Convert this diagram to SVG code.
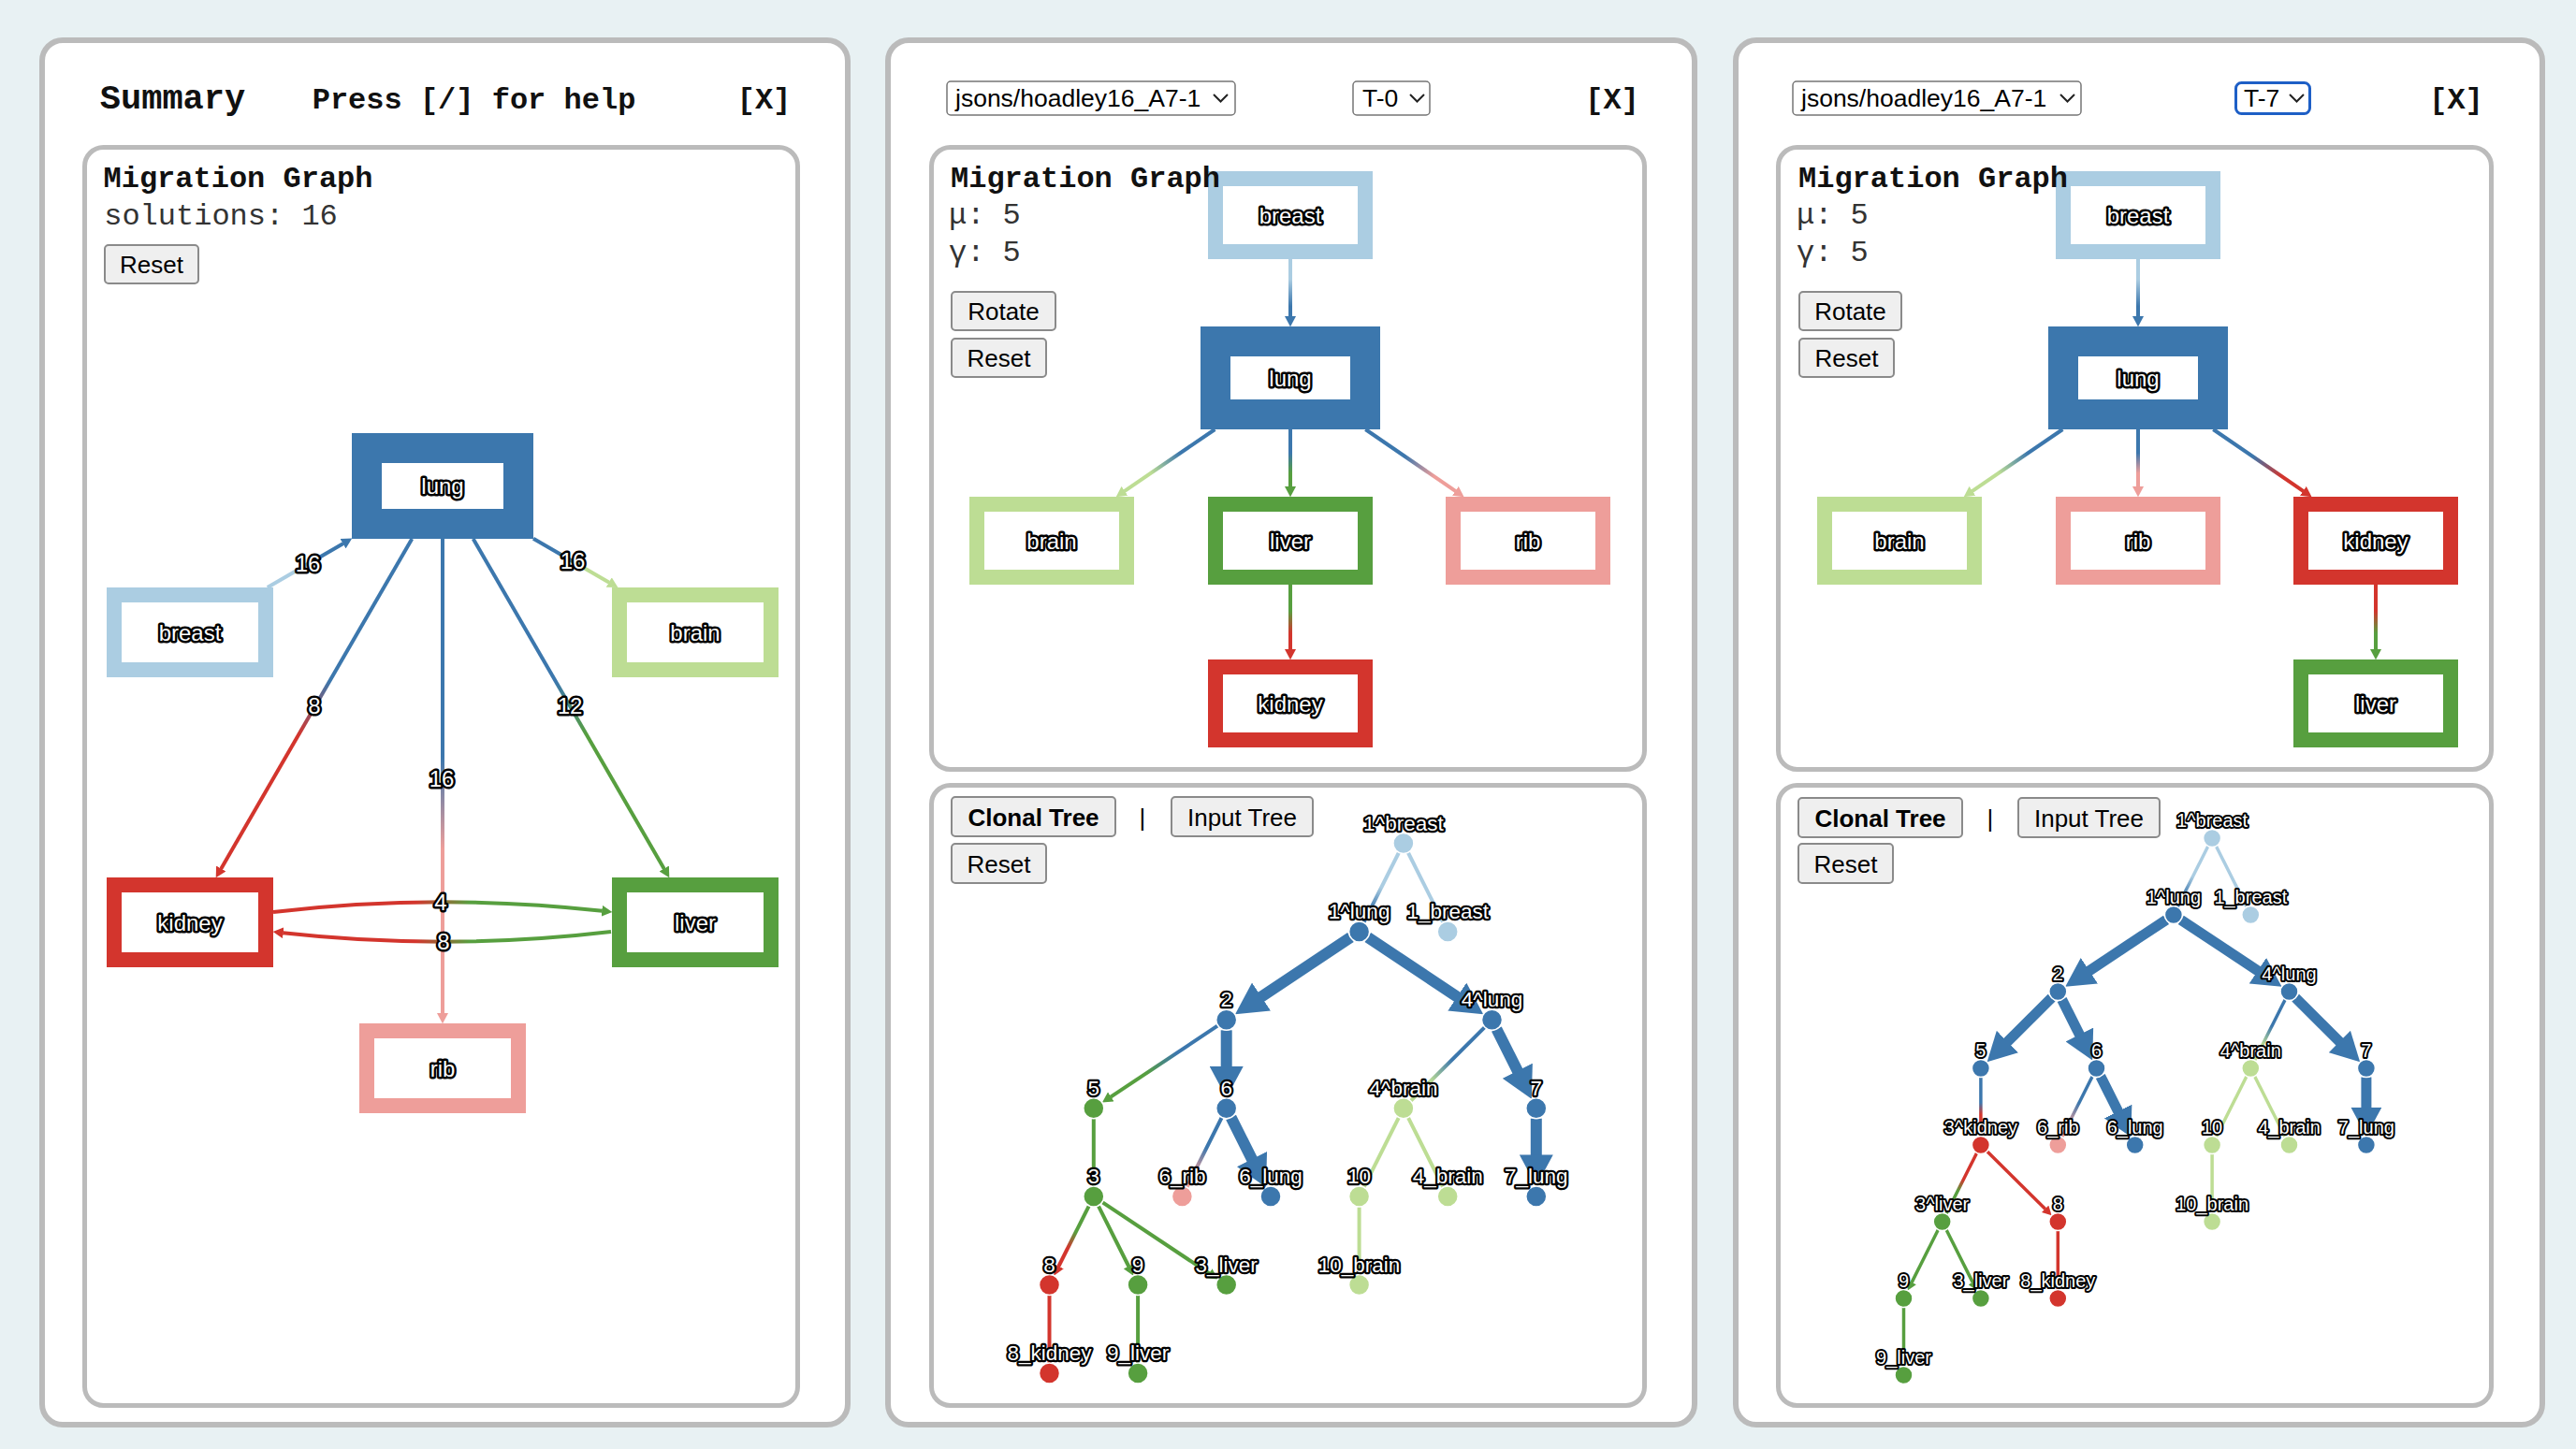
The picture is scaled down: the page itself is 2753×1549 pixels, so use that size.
<svg xmlns="http://www.w3.org/2000/svg" width="2753" height="1549" viewBox="0 0 2753 1549">
<style>
.panel{fill:#fff;stroke:#bbb;stroke-width:6}
.box{fill:#fff;stroke:#bbb;stroke-width:5}
.hd{font-family:"Liberation Mono","DejaVu Sans Mono",monospace;font-weight:700;font-size:32px;fill:#111}
.hd.big-title{font-size:37px}
.mono{font-family:"Liberation Mono","DejaVu Sans Mono",monospace;font-size:32px;fill:#333}
.btn{fill:#efefef;stroke:#8a8a8a;stroke-width:2}
.bt{font-family:"Liberation Sans",Arial,sans-serif;font-size:26px;fill:#000;text-anchor:middle}
.sel{fill:#fff;stroke:#767676;stroke-width:1.5}
.st{font-family:"Liberation Sans",Arial,sans-serif;font-size:26.5px;fill:#000}
.chev{fill:none;stroke:#222;stroke-width:2}
.nr{fill:#fff;stroke-width:16}
.lbl{font-family:"Liberation Sans",Arial,sans-serif;font-size:24px;fill:#fff;stroke:#000;stroke-width:5;stroke-linejoin:round;paint-order:stroke;text-anchor:middle}
.l2{font-size:22.5px;stroke-width:4.5}
.l3{font-size:20px;stroke-width:4}
.e{fill:none;stroke-width:4}
.e3{fill:none;stroke-width:3.5}
.big{fill:none;stroke-width:12;stroke:#3c77ad}
.big3{fill:none;stroke-width:11;stroke:#3c77ad}
.s-lb{stroke:#abcde2}.s-bl{stroke:#3c77ad}.s-lg{stroke:#bddd94}.s-gr{stroke:#579f3f}.s-pk{stroke:#ee9e9a}.s-rd{stroke:#d3352d}
.f-lb{fill:#abcde2}.f-bl{fill:#3c77ad}.f-lg{fill:#bddd94}.f-gr{fill:#579f3f}.f-pk{fill:#ee9e9a}.f-rd{fill:#d3352d}
.lungn{stroke-width:32}
circle{stroke:#fff;stroke-width:1.5}
.c-lb{stop-color:#abcde2}.c-bl{stop-color:#3c77ad}.c-lg{stop-color:#bddd94}.c-gr{stop-color:#579f3f}.c-pk{stop-color:#ee9e9a}.c-rd{stop-color:#d3352d}
</style>
<defs>
<marker id="ah-bl" viewBox="0 0 2.8 3" refX="0.1" refY="1.5" markerWidth="2.8" markerHeight="3" orient="auto" markerUnits="strokeWidth"><path d="M0,0L2.8,1.5L0,3z" class="f-bl"/></marker>
<marker id="ah-lg" viewBox="0 0 2.8 3" refX="0.1" refY="1.5" markerWidth="2.8" markerHeight="3" orient="auto" markerUnits="strokeWidth"><path d="M0,0L2.8,1.5L0,3z" class="f-lg"/></marker>
<marker id="ah-gr" viewBox="0 0 2.8 3" refX="0.1" refY="1.5" markerWidth="2.8" markerHeight="3" orient="auto" markerUnits="strokeWidth"><path d="M0,0L2.8,1.5L0,3z" class="f-gr"/></marker>
<marker id="ah-pk" viewBox="0 0 2.8 3" refX="0.1" refY="1.5" markerWidth="2.8" markerHeight="3" orient="auto" markerUnits="strokeWidth"><path d="M0,0L2.8,1.5L0,3z" class="f-pk"/></marker>
<marker id="ah-rd" viewBox="0 0 2.8 3" refX="0.1" refY="1.5" markerWidth="2.8" markerHeight="3" orient="auto" markerUnits="strokeWidth"><path d="M0,0L2.8,1.5L0,3z" class="f-rd"/></marker>
<linearGradient id="g1" gradientUnits="userSpaceOnUse" x1="285.8" y1="628" x2="376" y2="575.7"><stop offset="0.4" class="c-lb"/><stop offset="0.6" class="c-bl"/></linearGradient>
<linearGradient id="g2" gradientUnits="userSpaceOnUse" x1="570" y1="575.7" x2="660.2" y2="628"><stop offset="0.4" class="c-bl"/><stop offset="0.6" class="c-lg"/></linearGradient>
<linearGradient id="g3" gradientUnits="userSpaceOnUse" x1="440.3" y1="576" x2="230.8" y2="938"><stop offset="0.42" class="c-bl"/><stop offset="0.58" class="c-rd"/></linearGradient>
<linearGradient id="g4" gradientUnits="userSpaceOnUse" x1="505.7" y1="576" x2="715.2" y2="938"><stop offset="0.42" class="c-bl"/><stop offset="0.58" class="c-gr"/></linearGradient>
<linearGradient id="g5" gradientUnits="userSpaceOnUse" x1="473" y1="576" x2="473" y2="1094"><stop offset="0.45" class="c-bl"/><stop offset="0.64" class="c-pk"/></linearGradient>
<linearGradient id="g6" gradientUnits="userSpaceOnUse" x1="292" y1="0" x2="654" y2="0"><stop offset="0.42" class="c-rd"/><stop offset="0.58" class="c-gr"/></linearGradient>
<linearGradient id="g7" gradientUnits="userSpaceOnUse" x1="654" y1="0" x2="292" y2="0"><stop offset="0.42" class="c-gr"/><stop offset="0.58" class="c-rd"/></linearGradient>
<linearGradient id="g8" gradientUnits="userSpaceOnUse" x1="1379" y1="277" x2="1379" y2="349"><stop offset="0.3" class="c-lb"/><stop offset="0.7" class="c-bl"/></linearGradient>
<linearGradient id="g9" gradientUnits="userSpaceOnUse" x1="1298.4" y1="459" x2="1192.9" y2="531"><stop offset="0.35" class="c-bl"/><stop offset="0.65" class="c-lg"/></linearGradient>
<linearGradient id="g10" gradientUnits="userSpaceOnUse" x1="1379" y1="459" x2="1379" y2="531"><stop offset="0.35" class="c-bl"/><stop offset="0.65" class="c-gr"/></linearGradient>
<linearGradient id="g11" gradientUnits="userSpaceOnUse" x1="1459.3" y1="459" x2="1564.4" y2="531"><stop offset="0.4" class="c-bl"/><stop offset="0.7" class="c-pk"/></linearGradient>
<linearGradient id="g12" gradientUnits="userSpaceOnUse" x1="1379" y1="625" x2="1379" y2="705"><stop offset="0.35" class="c-gr"/><stop offset="0.65" class="c-rd"/></linearGradient>
<linearGradient id="g13" gradientUnits="userSpaceOnUse" x1="2285" y1="277" x2="2285" y2="349"><stop offset="0.3" class="c-lb"/><stop offset="0.7" class="c-bl"/></linearGradient>
<linearGradient id="g14" gradientUnits="userSpaceOnUse" x1="2204.4" y1="459" x2="2098.9" y2="531"><stop offset="0.35" class="c-bl"/><stop offset="0.65" class="c-lg"/></linearGradient>
<linearGradient id="g15" gradientUnits="userSpaceOnUse" x1="2285" y1="459" x2="2285" y2="531"><stop offset="0.35" class="c-bl"/><stop offset="0.65" class="c-pk"/></linearGradient>
<linearGradient id="g16" gradientUnits="userSpaceOnUse" x1="2365.3" y1="459" x2="2470.4" y2="531"><stop offset="0.4" class="c-bl"/><stop offset="0.7" class="c-rd"/></linearGradient>
<linearGradient id="g17" gradientUnits="userSpaceOnUse" x1="2539" y1="625" x2="2539" y2="705"><stop offset="0.35" class="c-rd"/><stop offset="0.65" class="c-gr"/></linearGradient>
<linearGradient id="t2AB" gradientUnits="userSpaceOnUse" x1="1499.9" y1="901.5" x2="1452.6" y2="995.9"><stop offset="0.5" class="c-lb"/><stop offset="0.75" class="c-bl"/></linearGradient>
<linearGradient id="t2DF" gradientUnits="userSpaceOnUse" x1="1310.7" y1="1090.3" x2="1178" y2="1178.6"><stop offset="0.4" class="c-bl"/><stop offset="0.65" class="c-gr"/></linearGradient>
<linearGradient id="t2GK" gradientUnits="userSpaceOnUse" x1="1310.7" y1="1184.7" x2="1263.4" y2="1279.1"><stop offset="0.45" class="c-bl"/><stop offset="0.75" class="c-pk"/></linearGradient>
<linearGradient id="t2EH" gradientUnits="userSpaceOnUse" x1="1594.5" y1="1090.3" x2="1499.9" y2="1184.7"><stop offset="0.45" class="c-bl"/><stop offset="0.7" class="c-lg"/></linearGradient>
<linearGradient id="t2JP" gradientUnits="userSpaceOnUse" x1="1168.8" y1="1279.1" x2="1126.4" y2="1363.7"><stop offset="0.45" class="c-gr"/><stop offset="0.65" class="c-rd"/></linearGradient>
<linearGradient id="t3AB" gradientUnits="userSpaceOnUse" x1="2364.1" y1="896" x2="2322.9" y2="978"><stop offset="0.5" class="c-lb"/><stop offset="0.75" class="c-bl"/></linearGradient>
<linearGradient id="t3EH" gradientUnits="userSpaceOnUse" x1="2446.5" y1="1060" x2="2405.3" y2="1142"><stop offset="0.45" class="c-bl"/><stop offset="0.7" class="c-lg"/></linearGradient>
<linearGradient id="t3GK" gradientUnits="userSpaceOnUse" x1="2240.5" y1="1142" x2="2199.3" y2="1224"><stop offset="0.45" class="c-bl"/><stop offset="0.75" class="c-pk"/></linearGradient>
<linearGradient id="t3FJ" gradientUnits="userSpaceOnUse" x1="2116.9" y1="1142" x2="2116.9" y2="1224"><stop offset="0.45" class="c-bl"/><stop offset="0.6" class="c-rd"/></linearGradient>
<linearGradient id="t3JP" gradientUnits="userSpaceOnUse" x1="2116.9" y1="1224" x2="2075.7" y2="1306"><stop offset="0.45" class="c-rd"/><stop offset="0.6" class="c-gr"/></linearGradient>
</defs>

<rect x="0" y="0" width="2753" height="1549" fill="#e8f1f3"/>

<g id="panel-summary">
<rect class="panel" x="45" y="43" width="861" height="1480" rx="22"/>
<text class="hd big-title" x="184.5" y="116" text-anchor="middle">Summary</text>
<text class="hd" x="506.5" y="116" text-anchor="middle">Press [/] for help</text>
<text class="hd" x="816.5" y="116" text-anchor="middle">[X]</text>
<rect class="box" x="90.5" y="157.5" width="762" height="1345" rx="20"/>
<text class="hd" x="254.5" y="200" text-anchor="middle">Migration Graph</text>
<text class="mono" x="236" y="240" text-anchor="middle">solutions: 16</text>
<g id="p1-reset"><rect class="btn" x="112" y="262" width="100" height="41" rx="4"/><text class="bt" x="162" y="292">Reset</text></g>
</g>

<g id="p1-connectors">
<path class="e" stroke="url(#g1)" marker-end="url(#ah-bl)" d="M285.8,628L366.9,581"/>
<path class="e" stroke="url(#g2)" marker-end="url(#ah-lg)" d="M570,575.7L651.1,622.7"/>
<path class="e" stroke="url(#g3)" marker-end="url(#ah-rd)" d="M440.3,576L236.1,928.9"/>
<path class="e" stroke="url(#g4)" marker-end="url(#ah-gr)" d="M505.7,576L709.9,928.9"/>
<path class="e" stroke="url(#g5)" marker-end="url(#ah-pk)" d="M473,576L473,1083.5"/>
<path class="e" stroke="url(#g6)" marker-end="url(#ah-gr)" d="M292,975A1540,1540 0 0,1 643.6,973.8"/>
<path class="e" stroke="url(#g7)" marker-end="url(#ah-rd)" d="M653,996A1540,1540 0 0,1 302.4,997.2"/>
<text class="lbl" x="329" y="611">16</text>
<text class="lbl" x="612" y="608">16</text>
<text class="lbl" x="336" y="763">8</text>
<text class="lbl" x="609" y="763">12</text>
<text class="lbl" x="472" y="841">16</text>
<text class="lbl" x="471" y="973">4</text>
<text class="lbl" x="474" y="1015">8</text>
</g>

<g id="p1-lung"><rect class="nr s-bl lungn" x="392" y="479" width="162" height="81"/><text class="lbl" x="473" y="528">lung</text></g>
<g id="p1-breast"><rect class="nr s-lb" x="122" y="636" width="162" height="80"/><text class="lbl" x="203" y="684.5">breast</text></g>
<g id="p1-brain"><rect class="nr s-lg" x="662" y="636" width="162" height="80"/><text class="lbl" x="743" y="684.5">brain</text></g>
<g id="p1-kidney"><rect class="nr s-rd" x="122" y="946" width="162" height="80"/><text class="lbl" x="203" y="994.5">kidney</text></g>
<g id="p1-liver"><rect class="nr s-gr" x="662" y="946" width="162" height="80"/><text class="lbl" x="743" y="994.5">liver</text></g>
<g id="p1-rib"><rect class="nr s-pk" x="392" y="1102" width="162" height="80"/><text class="lbl" x="473" y="1150.5">rib</text></g>

<g id="panel-t0">
<rect class="panel" x="949" y="43" width="862" height="1480" rx="22"/>
<g id="p2-file-select"><rect class="sel" x="1012" y="87" width="308" height="36" rx="4"/><text class="st" x="1021" y="114">jsons/hoadley16_A7-1</text><path class="chev" d="M1297,101L1304.5,108.5L1312,101"/></g>
<g id="p2-tree-select"><rect class="sel" x="1446" y="87" width="82" height="36" rx="4"/><text class="st" x="1456" y="114">T-0</text><path class="chev" d="M1507,101L1514.5,108.5L1522,101"/></g>
<text class="hd" x="1723" y="116" text-anchor="middle">[X]</text>
<rect class="box" x="995.5" y="157.5" width="762" height="665" rx="20"/>
<rect class="box" x="995.5" y="839.5" width="762" height="663" rx="20"/>
<g id="p2-rotate"><rect class="btn" x="1017" y="312" width="111" height="41" rx="4"/><text class="bt" x="1072.5" y="342">Rotate</text></g>
<g id="p2-reset"><rect class="btn" x="1017" y="362" width="101" height="41" rx="4"/><text class="bt" x="1067.5" y="392">Reset</text></g>
<g id="p2-clonal"><rect class="btn" x="1017" y="852" width="175" height="42" rx="4"/><text class="bt" x="1104.5" y="883" font-weight="700">Clonal Tree</text></g>
<text class="bt" x="1221" y="883" fill="#333">|</text>
<g id="p2-input"><rect class="btn" x="1252" y="852" width="151" height="42" rx="4"/><text class="bt" x="1327.5" y="883">Input Tree</text></g>
<g id="p2-treset"><rect class="btn" x="1017" y="902" width="101" height="42" rx="4"/><text class="bt" x="1067.5" y="933">Reset</text></g>
</g>

<g id="p2-connectors">
<path class="e" stroke="url(#g8)" marker-end="url(#ah-bl)" d="M1379,277L1379,338.5"/>
<path class="e" stroke="url(#g9)" marker-end="url(#ah-lg)" d="M1298.4,459L1201.6,525.1"/>
<path class="e" stroke="url(#g10)" marker-end="url(#ah-gr)" d="M1379,459L1379,520.5"/>
<path class="e" stroke="url(#g11)" marker-end="url(#ah-pk)" d="M1459.3,459L1555.7,525.1"/>
<path class="e" stroke="url(#g12)" marker-end="url(#ah-rd)" d="M1379,625L1379,694.5"/>
</g>
<g id="p2-breast"><rect class="nr s-lb" x="1299" y="191" width="160" height="78"/><text class="lbl" x="1379" y="238.5">breast</text></g>
<g id="p2-lung"><rect class="nr s-bl lungn" x="1299" y="365" width="160" height="78"/><text class="lbl" x="1379" y="412.5">lung</text></g>
<g id="p2-brain"><rect class="nr s-lg" x="1044" y="539" width="160" height="78"/><text class="lbl" x="1124" y="586.5">brain</text></g>
<g id="p2-liver"><rect class="nr s-gr" x="1299" y="539" width="160" height="78"/><text class="lbl" x="1379" y="586.5">liver</text></g>
<g id="p2-rib"><rect class="nr s-pk" x="1553" y="539" width="160" height="78"/><text class="lbl" x="1633" y="586.5">rib</text></g>
<g id="p2-kidney"><rect class="nr s-rd" x="1299" y="713" width="160" height="78"/><text class="lbl" x="1379" y="760.5">kidney</text></g>
<text class="hd" x="1160" y="200" text-anchor="middle">Migration Graph</text>
<text class="mono" x="1014" y="239">μ: 5</text>
<text class="mono" x="1014" y="279">γ: 5</text>

<g id="p2-tree-connectors">
<path class="e" stroke="url(#t2AB)" d="M1499.9,901.5L1452.6,995.9"/>
<path class="e s-lb" d="M1499.9,901.5L1547.2,995.9"/>
<path class="e" stroke="url(#t2GK)" d="M1310.7,1184.7L1263.4,1279.1"/>
<path class="e" stroke="url(#t2EH)" d="M1594.5,1090.3L1499.9,1184.7"/>
<path class="e s-lg" d="M1499.9,1184.7L1452.6,1279.1"/>
<path class="e s-lg" d="M1499.9,1184.7L1547.2,1279.1"/>
<path class="e s-lg" d="M1452.6,1279.1L1452.6,1373.5"/>
<path class="e s-gr" d="M1168.8,1184.7L1168.8,1279.1"/>
<path class="e s-rd" d="M1121.5,1373.5L1121.5,1467.9"/>
<path class="e s-gr" d="M1216.1,1373.5L1216.1,1467.9"/>
<path class="e" stroke="url(#t2DF)" marker-end="url(#ah-gr)" d="M1301.5,1096.4L1187,1172.6"/>
<path class="e" stroke="url(#t2JP)" marker-end="url(#ah-rd)" d="M1163.9,1288.9L1131.2,1354"/>
<path class="e s-gr" marker-end="url(#ah-gr)" d="M1173.7,1288.9L1206.4,1354"/>
<path class="e s-gr" marker-end="url(#ah-gr)" d="M1178,1285.2L1292.5,1361.4"/>
<path class="big" marker-end="url(#ah-bl)" d="M1443.4,1002L1347,1066.2"/>
<path class="big" marker-end="url(#ah-bl)" d="M1461.8,1002L1558.2,1066.2"/>
<path class="big" marker-end="url(#ah-bl)" d="M1310.7,1101.3L1310.7,1141.2"/>
<path class="big" marker-end="url(#ah-bl)" d="M1315.6,1194.5L1338.5,1240.2"/>
<path class="big" marker-end="url(#ah-bl)" d="M1599.4,1100.1L1622.3,1145.8"/>
<path class="big" marker-end="url(#ah-bl)" d="M1641.8,1195.7L1641.8,1235.6"/>
</g>
<g id="p2t-1breastA"><circle class="f-lb" cx="1499.9" cy="901.5" r="11"/><text class="lbl l2" x="1499.9" y="887.5">1^breast</text></g>
<g id="p2t-1lungA"><circle class="f-bl" cx="1452.6" cy="995.9" r="11"/><text class="lbl l2" x="1452.6" y="981.9">1^lung</text></g>
<g id="p2t-1breast"><circle class="f-lb" cx="1547.2" cy="995.9" r="11"/><text class="lbl l2" x="1547.2" y="981.9">1_breast</text></g>
<g id="p2t-2"><circle class="f-bl" cx="1310.7" cy="1090.3" r="11"/><text class="lbl l2" x="1310.7" y="1076.3">2</text></g>
<g id="p2t-4lungA"><circle class="f-bl" cx="1594.5" cy="1090.3" r="11"/><text class="lbl l2" x="1594.5" y="1076.3">4^lung</text></g>
<g id="p2t-5"><circle class="f-gr" cx="1168.8" cy="1184.7" r="11"/><text class="lbl l2" x="1168.8" y="1170.7">5</text></g>
<g id="p2t-6"><circle class="f-bl" cx="1310.7" cy="1184.7" r="11"/><text class="lbl l2" x="1310.7" y="1170.7">6</text></g>
<g id="p2t-4brainA"><circle class="f-lg" cx="1499.9" cy="1184.7" r="11"/><text class="lbl l2" x="1499.9" y="1170.7">4^brain</text></g>
<g id="p2t-7"><circle class="f-bl" cx="1641.8" cy="1184.7" r="11"/><text class="lbl l2" x="1641.8" y="1170.7">7</text></g>
<g id="p2t-3"><circle class="f-gr" cx="1168.8" cy="1279.1" r="11"/><text class="lbl l2" x="1168.8" y="1265.1">3</text></g>
<g id="p2t-6rib"><circle class="f-pk" cx="1263.4" cy="1279.1" r="11"/><text class="lbl l2" x="1263.4" y="1265.1">6_rib</text></g>
<g id="p2t-6lung"><circle class="f-bl" cx="1358" cy="1279.1" r="11"/><text class="lbl l2" x="1358" y="1265.1">6_lung</text></g>
<g id="p2t-10"><circle class="f-lg" cx="1452.6" cy="1279.1" r="11"/><text class="lbl l2" x="1452.6" y="1265.1">10</text></g>
<g id="p2t-4brain"><circle class="f-lg" cx="1547.2" cy="1279.1" r="11"/><text class="lbl l2" x="1547.2" y="1265.1">4_brain</text></g>
<g id="p2t-7lung"><circle class="f-bl" cx="1641.8" cy="1279.1" r="11"/><text class="lbl l2" x="1641.8" y="1265.1">7_lung</text></g>
<g id="p2t-8"><circle class="f-rd" cx="1121.5" cy="1373.5" r="11"/><text class="lbl l2" x="1121.5" y="1359.5">8</text></g>
<g id="p2t-9"><circle class="f-gr" cx="1216.1" cy="1373.5" r="11"/><text class="lbl l2" x="1216.1" y="1359.5">9</text></g>
<g id="p2t-3liver"><circle class="f-gr" cx="1310.7" cy="1373.5" r="11"/><text class="lbl l2" x="1310.7" y="1359.5">3_liver</text></g>
<g id="p2t-10brain"><circle class="f-lg" cx="1452.6" cy="1373.5" r="11"/><text class="lbl l2" x="1452.6" y="1359.5">10_brain</text></g>
<g id="p2t-8kidney"><circle class="f-rd" cx="1121.5" cy="1467.9" r="11"/><text class="lbl l2" x="1121.5" y="1453.9">8_kidney</text></g>
<g id="p2t-9liver"><circle class="f-gr" cx="1216.1" cy="1467.9" r="11"/><text class="lbl l2" x="1216.1" y="1453.9">9_liver</text></g>

<g id="panel-t7">
<rect class="panel" x="1855" y="43" width="862" height="1480" rx="22"/>
<g id="p3-file-select"><rect class="sel" x="1916" y="87" width="308" height="36" rx="4"/><text class="st" x="1925" y="114">jsons/hoadley16_A7-1</text><path class="chev" d="M2202,101L2209.5,108.5L2217,101"/></g>
<g id="p3-tree-select"><rect x="2389.5" y="88.5" width="79" height="33" rx="6" fill="#fff" stroke="#1e5fc6" stroke-width="3"/><text class="st" x="2398" y="114">T-7</text><path class="chev" d="M2447,101L2454.5,108.5L2462,101"/></g>
<text class="hd" x="2625" y="116" text-anchor="middle">[X]</text>
<rect class="box" x="1900.5" y="157.5" width="762" height="665" rx="20"/>
<rect class="box" x="1900.5" y="839.5" width="762" height="663" rx="20"/>
<g id="p3-rotate"><rect class="btn" x="1923" y="312" width="109" height="41" rx="4"/><text class="bt" x="1977.5" y="342">Rotate</text></g>
<g id="p3-reset"><rect class="btn" x="1923" y="362" width="101" height="41" rx="4"/><text class="bt" x="1973.5" y="392">Reset</text></g>
<g id="p3-clonal"><rect class="btn" x="1922" y="853" width="175" height="42" rx="4"/><text class="bt" x="2009.5" y="884" font-weight="700">Clonal Tree</text></g>
<text class="bt" x="2127" y="884" fill="#333">|</text>
<g id="p3-input"><rect class="btn" x="2157" y="853" width="151" height="42" rx="4"/><text class="bt" x="2232.5" y="884">Input Tree</text></g>
<g id="p3-treset"><rect class="btn" x="1922" y="902" width="101" height="42" rx="4"/><text class="bt" x="1972.5" y="933">Reset</text></g>
</g>

<g id="p3-connectors">
<path class="e" stroke="url(#g13)" marker-end="url(#ah-bl)" d="M2285,277L2285,338.5"/>
<path class="e" stroke="url(#g14)" marker-end="url(#ah-lg)" d="M2204.4,459L2107.6,525.1"/>
<path class="e" stroke="url(#g15)" marker-end="url(#ah-pk)" d="M2285,459L2285,520.5"/>
<path class="e" stroke="url(#g16)" marker-end="url(#ah-rd)" d="M2365.3,459L2461.7,525.1"/>
<path class="e" stroke="url(#g17)" marker-end="url(#ah-gr)" d="M2539,625L2539,694.5"/>
</g>
<g id="p3-breast"><rect class="nr s-lb" x="2205" y="191" width="160" height="78"/><text class="lbl" x="2285" y="238.5">breast</text></g>
<g id="p3-lung"><rect class="nr s-bl lungn" x="2205" y="365" width="160" height="78"/><text class="lbl" x="2285" y="412.5">lung</text></g>
<g id="p3-brain"><rect class="nr s-lg" x="1950" y="539" width="160" height="78"/><text class="lbl" x="2030" y="586.5">brain</text></g>
<g id="p3-rib"><rect class="nr s-pk" x="2205" y="539" width="160" height="78"/><text class="lbl" x="2285" y="586.5">rib</text></g>
<g id="p3-kidney"><rect class="nr s-rd" x="2459" y="539" width="160" height="78"/><text class="lbl" x="2539" y="586.5">kidney</text></g>
<g id="p3-liver"><rect class="nr s-gr" x="2459" y="713" width="160" height="78"/><text class="lbl" x="2539" y="760.5">liver</text></g>
<text class="hd" x="2066" y="200" text-anchor="middle">Migration Graph</text>
<text class="mono" x="1920" y="239">μ: 5</text>
<text class="mono" x="1920" y="279">γ: 5</text>

<g id="p3-tree-connectors">
<path class="e3" stroke="url(#t3AB)" d="M2364.1,896L2322.9,978"/>
<path class="e3 s-lb" d="M2364.1,896L2405.3,978"/>
<path class="e3" stroke="url(#t3EH)" d="M2446.5,1060L2405.3,1142"/>
<path class="e3 s-lg" d="M2405.3,1142L2364.1,1224"/>
<path class="e3 s-lg" d="M2405.3,1142L2446.5,1224"/>
<path class="e3 s-lg" d="M2364.1,1224L2364.1,1306"/>
<path class="e3" stroke="url(#t3GK)" d="M2240.5,1142L2199.3,1224"/>
<path class="e3" stroke="url(#t3FJ)" d="M2116.9,1142L2116.9,1224"/>
<path class="e3" stroke="url(#t3JP)" d="M2116.9,1224L2075.7,1306"/>
<path class="e3 s-rd" d="M2199.3,1306L2199.3,1388"/>
<path class="e3 s-gr" d="M2034.5,1388L2034.5,1470"/>
<path class="e3 s-rd" marker-end="url(#ah-rd)" d="M2123.6,1230.7L2185.9,1292.6"/>
<path class="e3 s-gr" marker-end="url(#ah-gr)" d="M2071.4,1314.5L2043,1371.1"/>
<path class="e3 s-gr" marker-end="url(#ah-gr)" d="M2080,1314.5L2108.4,1371.1"/>
<path class="big3" marker-end="url(#ah-bl)" d="M2315,983.3L2232,1038.3"/>
<path class="big3" marker-end="url(#ah-bl)" d="M2330.8,983.3L2413.8,1038.3"/>
<path class="big3" marker-end="url(#ah-bl)" d="M2192.6,1066.7L2144.7,1114.3"/>
<path class="big3" marker-end="url(#ah-bl)" d="M2203.6,1068.5L2222.9,1107"/>
<path class="big3" marker-end="url(#ah-bl)" d="M2244.8,1150.5L2264.1,1189"/>
<path class="big3" marker-end="url(#ah-bl)" d="M2453.2,1066.7L2501.1,1114.3"/>
<path class="big3" marker-end="url(#ah-bl)" d="M2528.9,1151.5L2528.9,1184.8"/>
</g>
<g id="p3t-1breastA"><circle class="f-lb" cx="2364.1" cy="896" r="9.5"/><text class="lbl l3" x="2364.1" y="884">1^breast</text></g>
<g id="p3t-1lungA"><circle class="f-bl" cx="2322.9" cy="978" r="9.5"/><text class="lbl l3" x="2322.9" y="966">1^lung</text></g>
<g id="p3t-1breast"><circle class="f-lb" cx="2405.3" cy="978" r="9.5"/><text class="lbl l3" x="2405.3" y="966">1_breast</text></g>
<g id="p3t-2"><circle class="f-bl" cx="2199.3" cy="1060" r="9.5"/><text class="lbl l3" x="2199.3" y="1048">2</text></g>
<g id="p3t-4lungA"><circle class="f-bl" cx="2446.5" cy="1060" r="9.5"/><text class="lbl l3" x="2446.5" y="1048">4^lung</text></g>
<g id="p3t-5"><circle class="f-bl" cx="2116.9" cy="1142" r="9.5"/><text class="lbl l3" x="2116.9" y="1130">5</text></g>
<g id="p3t-6"><circle class="f-bl" cx="2240.5" cy="1142" r="9.5"/><text class="lbl l3" x="2240.5" y="1130">6</text></g>
<g id="p3t-4brainA"><circle class="f-lg" cx="2405.3" cy="1142" r="9.5"/><text class="lbl l3" x="2405.3" y="1130">4^brain</text></g>
<g id="p3t-7"><circle class="f-bl" cx="2528.9" cy="1142" r="9.5"/><text class="lbl l3" x="2528.9" y="1130">7</text></g>
<g id="p3t-3kidneyA"><circle class="f-rd" cx="2116.9" cy="1224" r="9.5"/><text class="lbl l3" x="2116.9" y="1212">3^kidney</text></g>
<g id="p3t-6rib"><circle class="f-pk" cx="2199.3" cy="1224" r="9.5"/><text class="lbl l3" x="2199.3" y="1212">6_rib</text></g>
<g id="p3t-6lung"><circle class="f-bl" cx="2281.7" cy="1224" r="9.5"/><text class="lbl l3" x="2281.7" y="1212">6_lung</text></g>
<g id="p3t-10"><circle class="f-lg" cx="2364.1" cy="1224" r="9.5"/><text class="lbl l3" x="2364.1" y="1212">10</text></g>
<g id="p3t-4brain"><circle class="f-lg" cx="2446.5" cy="1224" r="9.5"/><text class="lbl l3" x="2446.5" y="1212">4_brain</text></g>
<g id="p3t-7lung"><circle class="f-bl" cx="2528.9" cy="1224" r="9.5"/><text class="lbl l3" x="2528.9" y="1212">7_lung</text></g>
<g id="p3t-3liverA"><circle class="f-gr" cx="2075.7" cy="1306" r="9.5"/><text class="lbl l3" x="2075.7" y="1294">3^liver</text></g>
<g id="p3t-8"><circle class="f-rd" cx="2199.3" cy="1306" r="9.5"/><text class="lbl l3" x="2199.3" y="1294">8</text></g>
<g id="p3t-10brain"><circle class="f-lg" cx="2364.1" cy="1306" r="9.5"/><text class="lbl l3" x="2364.1" y="1294">10_brain</text></g>
<g id="p3t-9"><circle class="f-gr" cx="2034.5" cy="1388" r="9.5"/><text class="lbl l3" x="2034.5" y="1376">9</text></g>
<g id="p3t-3liver"><circle class="f-gr" cx="2116.9" cy="1388" r="9.5"/><text class="lbl l3" x="2116.9" y="1376">3_liver</text></g>
<g id="p3t-8kidney"><circle class="f-rd" cx="2199.3" cy="1388" r="9.5"/><text class="lbl l3" x="2199.3" y="1376">8_kidney</text></g>
<g id="p3t-9liver"><circle class="f-gr" cx="2034.5" cy="1470" r="9.5"/><text class="lbl l3" x="2034.5" y="1458">9_liver</text></g>
</svg>
